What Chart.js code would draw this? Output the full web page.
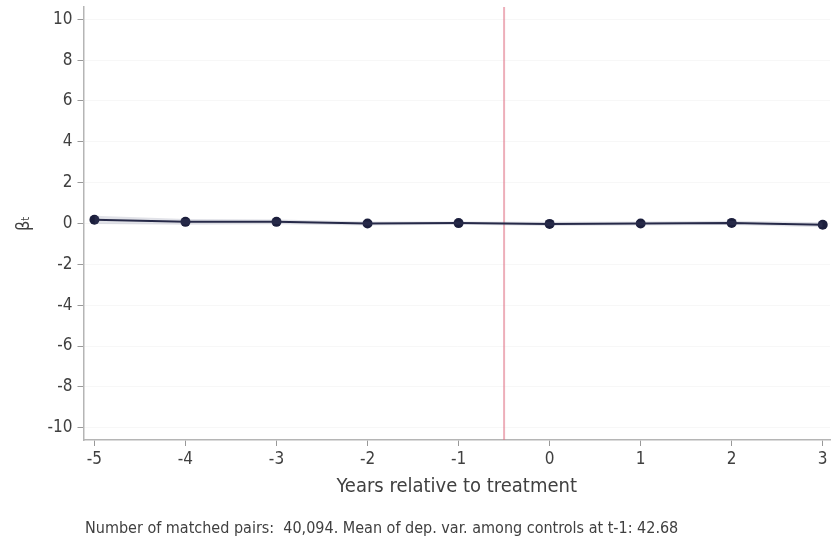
<!DOCTYPE html>
<html>
<head>
<meta charset="utf-8">
<script src="https://cdn.jsdelivr.net/npm/chart.js@4.4.1/dist/chart.umd.min.js"></script>
<style>
  html, body { margin: 0; padding: 0; background: #fff; }
  #wrap { width: 835px; height: 541px; }
</style>
</head>
<body>
<div id="wrap"><canvas id="eventStudy"></canvas></div>
<script>
// event-time coefficients with confidence band
const years = [-5, -4, -3, -2, -1, 0, 1, 2, 3];
const beta = [0.18, 0.08, 0.08, 0.0, 0.02, -0.02, 0.0, 0.03, -0.06];
const ciHigh = [0.38, 0.22, 0.2, 0.1, 0.1, 0.08, 0.1, 0.13, 0.06];
const ciLow = [-0.02, -0.06, -0.04, -0.1, -0.06, -0.12, -0.1, -0.07, -0.18];
const yTicks = [-10, -8, -6, -4, -2, 0, 2, 4, 6, 8, 10];
const treatmentLine = [-0.5, -0.5];
const treatmentSpan = [-10.6, 10.6];
const noteText = "Number of matched pairs:  40,094. Mean of dep. var. among controls at t-1: 42.68";

const navy = "#1b1e3c";
const textGray = "#404040";
const font = "'DejaVu Sans Condensed', 'DejaVu Sans', sans-serif";

const pts = (xs, ys) => xs.map((x, i) => ({ x: x, y: ys[i] }));

const notePlugin = {
  id: "note",
  afterDraw(chart) {
    const c = chart.ctx;
    c.save();
    c.fillStyle = textGray;
    c.font = "16px " + font;
    c.textBaseline = "middle";
    c.fillText(noteText, 85, 529);
    c.restore();
  },
};

document.addEventListener("DOMContentLoaded", () => {
  const ctx = document.getElementById("eventStudy").getContext("2d");

  new Chart(ctx, {
    type: "line",
    data: {
      datasets: [
        {
          label: "ci low",
          data: pts(years, ciLow),
          borderWidth: 0,
          pointRadius: 0,
          fill: false,
        },
        {
          label: "ci high",
          data: pts(years, ciHigh),
          borderWidth: 0,
          pointRadius: 0,
          backgroundColor: "rgba(90, 95, 130, 0.18)",
          fill: "-1",
        },
        {
          label: "beta",
          data: pts(years, beta),
          borderColor: navy,
          backgroundColor: navy,
          borderWidth: 2,
          pointRadius: 5,
          pointBackgroundColor: navy,
          pointBorderWidth: 0,
          tension: 0,
        },
        {
          label: "treatment",
          data: pts(treatmentLine, treatmentSpan),
          borderColor: "rgba(222, 110, 130, 0.55)",
          borderWidth: 2,
          pointRadius: 0,
        },
      ],
    },
    options: {
      responsive: true,
      maintainAspectRatio: false,
      animation: false,
      layout: { padding: { left: 0, right: 0, top: 7, bottom: 42 } },
      plugins: {
        legend: { display: false },
        tooltip: { enabled: false },
      },
      scales: {
        x: {
          type: "linear",
          min: -5.12,
          max: 3.08,
          afterBuildTicks: (scale) => {
            scale.ticks = years.map((v) => ({ value: v }));
          },
          afterFit: (scale) => {
            scale.height = 59;
            scale.paddingLeft = 0;
            scale.paddingRight = 0;
          },
          border: { color: "#b5b5b5", width: 1.5 },
          grid: {
            drawOnChartArea: false,
            tickColor: "#999",
            tickLength: 6,
          },
          ticks: {
            color: textGray,
            font: { family: font, size: 17 },
            maxRotation: 0,
            padding: 3,
          },
          title: {
            display: true,
            text: "Years relative to treatment",
            color: textGray,
            font: { family: font, size: 20 },
            padding: { top: 0, bottom: 0 },
          },
        },
        y: {
          min: -10.6,
          max: 10.6,
          afterBuildTicks: (scale) => {
            scale.ticks = yTicks.map((v) => ({ value: v }));
          },
          afterFit: (scale) => {
            scale.width = 83.5;
            scale.paddingTop = 0;
            scale.paddingBottom = 0;
          },
          border: { color: "#b5b5b5", width: 1.5 },
          grid: {
            color: "rgba(0,0,0,0.03)",
            tickColor: "#999",
            tickLength: 6,
          },
          ticks: {
            color: textGray,
            font: { family: font, size: 17 },
            padding: 5,
          },
          title: {
            display: true,
            text: "βₜ",
            color: textGray,
            font: { family: font, size: 18 },
            padding: { top: 14, bottom: 0 },
          },
        },
      },
    },
    plugins: [notePlugin],
  });
});
</script>
</body>
</html>
